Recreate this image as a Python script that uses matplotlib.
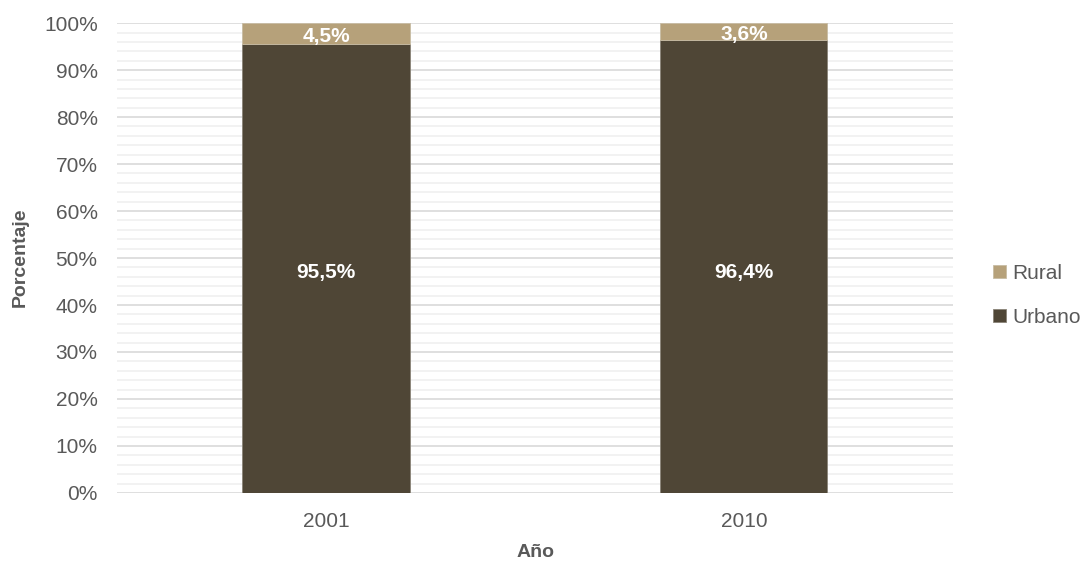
import matplotlib.pyplot as plt
from matplotlib.ticker import MultipleLocator, PercentFormatter

plt.rcParams['font.family'] = ['Liberation Sans', 'DejaVu Sans']

years = ['2001', '2010']
urbano = [95.5, 96.4]
rural = [4.5, 3.6]
urbano_labels = ['95,5%', '96,4%']
rural_labels = ['4,5%', '3,6%']

c_urb = '#4f4636'
c_rur = '#b6a17a'
grey = '#595959'

fig = plt.figure(figsize=(10.84, 5.64), dpi=100)
ax = fig.add_axes([0.108, 0.126, 0.771, 0.833])

x = range(len(years))
b1 = ax.bar(x, urbano, width=0.4, color=c_urb, edgecolor='#8a8478', linewidth=0.6, label='Urbano', zorder=3)
b2 = ax.bar(x, rural, width=0.4, bottom=urbano, color=c_rur, edgecolor='#c8bca4', linewidth=0.6, label='Rural', zorder=3)

for i in x:
    ax.text(i, 47.0, urbano_labels[i], ha='center', va='center', color='white',
            fontsize=15, fontweight='bold', zorder=4)
    ax.text(i, urbano[i] + rural[i] / 2 - 0.6, rural_labels[i], ha='center', va='center',
            color='white', fontsize=15, fontweight='bold', zorder=4)

ax.set_xlim(-0.5, 1.5)
ax.set_ylim(0, 100)
ax.set_xticks(list(x))
ax.set_xticklabels(years)
ax.yaxis.set_major_locator(MultipleLocator(10))
ax.yaxis.set_minor_locator(MultipleLocator(2))
ax.yaxis.set_major_formatter(PercentFormatter(decimals=0))
ax.grid(axis='y', which='major', color='#d9d9d9', linewidth=1.2, zorder=0)
ax.grid(axis='y', which='minor', color='#f0f0f0', linewidth=1.2, zorder=0)
ax.set_axisbelow(True)
for s in ax.spines.values():
    s.set_visible(False)
ax.tick_params(axis='both', which='both', length=0, labelsize=15, colors=grey)
ax.tick_params(axis='y', pad=14)
ax.tick_params(axis='x', pad=14)

fig.text(0.019, 0.543, 'Porcentaje', rotation=90, ha='center', va='center',
         fontsize=14, fontweight='bold', color=grey)
fig.text(0.494, 0.02, 'Año', ha='center', va='center',
         fontsize=14, fontweight='bold', color=grey)

leg = ax.legend(handles=[b2, b1], loc='center left', bbox_to_anchor=(1.026, 0.42),
                frameon=False, fontsize=15, handlelength=0.6, handleheight=0.6,
                handletextpad=0.3, labelspacing=1.2)
for t in leg.get_texts():
    t.set_color(grey)

fig.savefig('out.png', dpi=100)
